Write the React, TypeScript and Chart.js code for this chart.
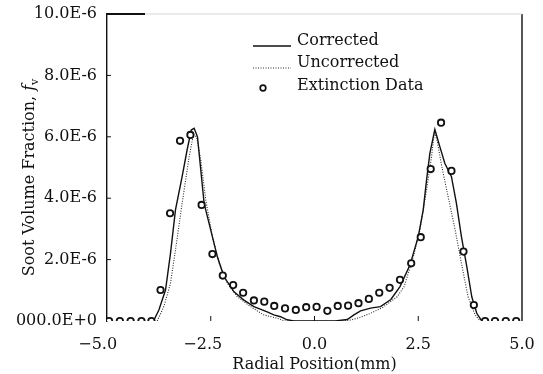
import React, { useEffect, useRef } from "react";
import { Chart, registerables } from "chart.js";

Chart.register(...registerables);

// Values of f_v are in units of 1E-6
const extinctionX = [-4.95, -4.69, -4.43, -4.17, -3.93, -3.71, -3.48, -3.24, -2.99, -2.72, -2.46, -2.21, -1.96, -1.72, -1.46, -1.21, -0.97, -0.71, -0.45, -0.2, 0.05, 0.31, 0.56, 0.81, 1.06, 1.31, 1.56, 1.81, 2.06, 2.33, 2.56, 2.8, 3.05, 3.3, 3.59, 3.84, 4.11, 4.35, 4.61, 4.86];
const extinctionFv = [0, 0, 0, 0, 0, 1.01, 3.51, 5.87, 6.06, 3.78, 2.18, 1.48, 1.17, 0.92, 0.67, 0.63, 0.49, 0.41, 0.36, 0.45, 0.46, 0.33, 0.49, 0.5, 0.58, 0.72, 0.92, 1.08, 1.34, 1.88, 2.73, 4.95, 6.46, 4.89, 2.26, 0.52, 0, 0, 0, 0];

const correctedX = [-3.88, -3.75, -3.59, -3.47, -3.35, -3.19, -3.07, -2.97, -2.9, -2.82, -2.74, -2.66, -2.5, -2.34, -2.18, -1.94, -1.7, -1.46, -1.14, -0.98, -0.82, -0.66, -0.5, 0.0, 0.5, 0.79, 0.95, 1.11, 1.35, 1.59, 1.84, 2.06, 2.3, 2.5, 2.62, 2.7, 2.78, 2.9, 3.02, 3.14, 3.3, 3.42, 3.54, 3.67, 3.79, 3.91, 4.03];
const correctedFv = [0, 0.36, 1.01, 2.2, 3.62, 4.7, 5.57, 6.22, 6.28, 6.0, 4.92, 3.83, 2.96, 2.09, 1.44, 0.95, 0.68, 0.47, 0.3, 0.2, 0.14, 0.04, 0, 0, 0, 0.05, 0.2, 0.33, 0.42, 0.47, 0.7, 1.12, 1.82, 2.75, 3.62, 4.59, 5.46, 6.24, 5.68, 5.14, 4.7, 3.83, 2.75, 1.77, 0.79, 0.25, 0];

const uncorrectedX = [-3.79, -3.63, -3.47, -3.35, -3.19, -3.02, -2.92, -2.84, -2.74, -2.62, -2.46, -2.3, -2.1, -1.86, -1.54, -1.23, -1.05, -0.9, -0.72, 0.0, 0.6, 0.87, 1.1, 1.35, 1.65, 1.99, 2.16, 2.38, 2.54, 2.7, 2.82, 2.89, 2.96, 3.06, 3.22, 3.39, 3.54, 3.7, 3.87, 3.99];
const uncorrectedFv = [0, 0.47, 1.23, 2.31, 3.83, 5.35, 6.06, 6.0, 5.24, 3.94, 2.75, 1.88, 1.23, 0.79, 0.47, 0.2, 0.14, 0.09, 0, 0, 0, 0.03, 0.12, 0.25, 0.45, 0.79, 1.12, 2.09, 2.96, 4.27, 5.35, 6.17, 5.84, 5.08, 4.05, 2.96, 1.88, 0.79, 0.2, 0];

const xTickValues = [-5, -2.5, 0, 2.5, 5];
const xTickLabels = ["\u22125.0\u2003\u2006", "\u22122.5\u2003", "0.0", "2.5", "5.0"];
const yTickValues = [0, 2, 4, 6, 8, 10];
const yTickLabels = ["000.0E+0", "2.0E-6", "4.0E-6", "6.0E-6", "8.0E-6", "10.0E-6"];

const seriesLabels = ["Corrected", "Uncorrected", "Extinction Data"];
const xTitle = "Radial Position(mm)";
const yTitleMain = "Soot Volume Fraction, ";

const FONT = "DejaVu Serif";
const INK = "#111";
const DOT_INK = "#2a2a2a";

const toPts = (xs: number[], ys: number[]) => xs.map((x, i) => ({ x, y: ys[i] }));

const framePlugin = {
  id: "frameAndDecor",
  afterDraw(chart: any) {
    const { ctx, chartArea } = chart;
    const xs = chart.scales.x;
    const ys = chart.scales.y;
    ctx.save();
    // right border
    ctx.strokeStyle = INK;
    ctx.lineWidth = 1.4;
    ctx.beginPath();
    ctx.moveTo(chartArea.right, chartArea.top);
    ctx.lineTo(chartArea.right, chartArea.bottom);
    ctx.stroke();
    // faint top border
    ctx.strokeStyle = "#d4d4d4";
    ctx.lineWidth = 1;
    ctx.beginPath();
    ctx.moveTo(chartArea.left, chartArea.top);
    ctx.lineTo(chartArea.right, chartArea.top);
    ctx.stroke();
    ctx.strokeStyle = INK;
    ctx.lineWidth = 1.8;
    ctx.beginPath();
    ctx.moveTo(chartArea.left, chartArea.top);
    ctx.lineTo(chartArea.left + 38, chartArea.top);
    ctx.stroke();
    // inward ticks
    ctx.lineWidth = 1;
    ctx.strokeStyle = INK;
    yTickValues.slice(1, -1).forEach((v) => {
      const py = ys.getPixelForValue(v);
      ctx.beginPath();
      ctx.moveTo(chartArea.left, py);
      ctx.lineTo(chartArea.left + 4, py);
      ctx.stroke();
    });
    xTickValues.slice(1, -1).forEach((v) => {
      const px = xs.getPixelForValue(v);
      ctx.beginPath();
      ctx.moveTo(px, chartArea.bottom);
      ctx.lineTo(px, chartArea.bottom - 5);
      ctx.stroke();
    });

    // y-axis title with italic f and subscript v
    ctx.fillStyle = INK;
    ctx.textBaseline = "middle";
    ctx.textAlign = "left";
    const mainFont = `16px "${FONT}"`;
    const italFont = `italic 16px "${FONT}"`;
    const subFont = `11px "${FONT}"`;
    ctx.font = mainFont;
    const w1 = ctx.measureText(yTitleMain).width;
    ctx.font = italFont;
    const w2 = ctx.measureText("f").width;
    ctx.font = subFont;
    const w3 = ctx.measureText("v").width;
    const total = w1 + w2 + w3;
    ctx.translate(30, (chartArea.top + chartArea.bottom) / 2 + 10);
    ctx.rotate(-Math.PI / 2);
    let cx = -total / 2;
    ctx.font = mainFont;
    ctx.fillText(yTitleMain, cx, 0);
    cx += w1;
    ctx.font = italFont;
    ctx.fillText("f", cx, 0);
    cx += w2;
    ctx.font = subFont;
    ctx.fillText("v", cx, 5);
    ctx.restore();

    // legend
    ctx.save();
    const lx0 = chartArea.left + 146;
    const lx1 = chartArea.left + 184;
    const tx = chartArea.left + 190;
    const rows = [41, 63, 86];
    ctx.font = `16px "${FONT}"`;
    ctx.fillStyle = INK;
    ctx.textBaseline = "middle";
    ctx.textAlign = "left";
    seriesLabels.forEach((lab, i) => ctx.fillText(lab, tx, rows[i]));
    ctx.strokeStyle = INK;
    ctx.lineWidth = 1.4;
    ctx.beginPath();
    ctx.moveTo(lx0, rows[0] + 5);
    ctx.lineTo(lx1, rows[0] + 5);
    ctx.stroke();
    ctx.strokeStyle = DOT_INK;
    ctx.lineWidth = 1.1;
    ctx.setLineDash([1, 1.5]);
    ctx.beginPath();
    ctx.moveTo(lx0, rows[1] + 5);
    ctx.lineTo(lx1, rows[1] + 5);
    ctx.stroke();
    ctx.setLineDash([]);
    ctx.strokeStyle = INK;
    ctx.lineWidth = 1.7;
    ctx.fillStyle = "#fff";
    ctx.beginPath();
    ctx.arc(lx0 + 10, rows[2] + 2, 2.8, 0, Math.PI * 2);
    ctx.fill();
    ctx.stroke();
    ctx.restore();
  },
};

export default function App() {
  const ref = useRef<HTMLCanvasElement | null>(null);
  useEffect(() => {
    if (!ref.current) return;
    const chart = new Chart(ref.current, {
      type: "scatter",
      data: {
        datasets: [
          {
            label: seriesLabels[0],
            data: toPts(correctedX, correctedFv),
            showLine: true,
            borderColor: INK,
            borderWidth: 1.4,
            pointRadius: 0,
            tension: 0,
            order: 2,
          },
          {
            label: seriesLabels[1],
            data: toPts(uncorrectedX, uncorrectedFv),
            showLine: true,
            borderColor: DOT_INK,
            borderWidth: 1.1,
            borderDash: [1, 1.5],
            pointRadius: 0,
            tension: 0,
            order: 3,
          },
          {
            label: seriesLabels[2],
            data: toPts(extinctionX, extinctionFv),
            showLine: false,
            pointStyle: "circle",
            pointRadius: 3.2,
            pointBorderWidth: 1.8,
            pointBorderColor: INK,
            pointBackgroundColor: "#fff",
            borderColor: INK,
            backgroundColor: "#fff",
            order: 1,
          },
        ],
      },
      options: {
        responsive: false,
        animation: false,
        layout: { padding: { top: 14, right: 21, left: 0, bottom: 0 } },
        plugins: { legend: { display: false }, tooltip: { enabled: false } },
        scales: {
          x: {
            type: "linear",
            min: -5,
            max: 5,
            afterBuildTicks: (s: any) => {
              s.ticks = xTickValues.map((v) => ({ value: v }));
            },
            afterFit: (s: any) => {
              s.height = 53;
              s.paddingLeft = 0;
              s.paddingRight = 0;
            },
            ticks: {
              callback: (v: any) => xTickLabels[xTickValues.indexOf(Number(v))] ?? "",
              font: { family: FONT, size: 16 },
              color: INK,
              padding: 14,
              maxRotation: 0,
              autoSkip: false,
            },
            grid: { display: false, drawTicks: false },
            border: { display: false },
            title: {
              display: true,
              text: xTitle,
              font: { family: FONT, size: 16 },
              color: INK,
              padding: { top: 0, bottom: 0 },
            },
          },
          y: {
            type: "linear",
            min: 0,
            max: 10,
            afterBuildTicks: (s: any) => {
              s.ticks = yTickValues.map((v) => ({ value: v }));
            },
            afterFit: (s: any) => {
              s.width = 107;
              s.paddingTop = 0;
              s.paddingBottom = 0;
            },
            ticks: {
              callback: (v: any) => yTickLabels[yTickValues.indexOf(Number(v))] ?? "",
              font: { family: FONT, size: 16 },
              color: INK,
              padding: 10,
              autoSkip: false,
            },
            grid: { display: false, drawTicks: false },
            border: { display: true, color: INK, width: 1.4 },
          },
        },
      },
      plugins: [framePlugin],
    });
    return () => chart.destroy();
  }, []);
  return (
    <div style={{ position: "fixed", left: 0, top: 0, width: 543, height: 374, background: "#fff" }}>
      <canvas ref={ref} width={543} height={374} style={{ display: "block" }} />
    </div>
  );
}
